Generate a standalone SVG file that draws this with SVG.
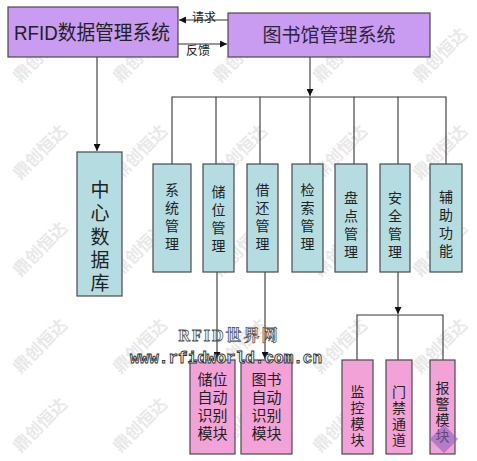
<svg xmlns="http://www.w3.org/2000/svg" width="477" height="461" viewBox="0 0 477 461">
<style>
text{font-family:"Liberation Sans","Noto Sans CJK SC",sans-serif;fill:#222}
.purple{fill:#c99cf2;stroke:#4a4a4a;stroke-width:1.2}
.teal{fill:#b5dde1;stroke:#4a4a4a;stroke-width:1.2}
.pink{fill:#f3a2d8;stroke:#4a4a4a;stroke-width:1.2}
.ln{stroke:#333;stroke-width:1.1;fill:none}
.v{font-size:14px;text-anchor:middle}
.p{font-size:15px;text-anchor:middle}
.t2{fill:#2e2440}
.wm{font-family:"Noto Sans CJK SC",sans-serif;font-size:17px;font-weight:bold;fill:#e8e8e8;text-anchor:middle}
.rw{font-family:"Liberation Serif","Noto Serif CJK SC","Noto Sans CJK SC",serif;font-size:16px;font-weight:bold;fill:#fff;stroke:#555;stroke-width:0.8px;text-anchor:middle;letter-spacing:2px}
.url{font-family:"Liberation Mono",monospace;font-size:16px;font-weight:bold;fill:#fff;stroke:#333;stroke-width:0.9px}
</style>
<defs>
<marker id="ah" viewBox="0 0 10 10" refX="10" refY="5" markerWidth="7" markerHeight="7" orient="auto" markerUnits="userSpaceOnUse">
<path d="M0,0 L10,5 L0,10 Z" fill="#111"/>
</marker>
</defs>
<rect width="477" height="461" fill="#fff"/>
<g id="watermarks">
<text class="wm" x="40" y="61" transform="rotate(-45 40 55)">鼎创恒达</text>
<text class="wm" x="140" y="61" transform="rotate(-45 140 55)">鼎创恒达</text>
<text class="wm" x="240" y="61" transform="rotate(-45 240 55)">鼎创恒达</text>
<text class="wm" x="340" y="61" transform="rotate(-45 340 55)">鼎创恒达</text>
<text class="wm" x="440" y="61" transform="rotate(-45 440 55)">鼎创恒达</text>
<text class="wm" x="40" y="158" transform="rotate(-45 40 152)">鼎创恒达</text>
<text class="wm" x="140" y="158" transform="rotate(-45 140 152)">鼎创恒达</text>
<text class="wm" x="240" y="158" transform="rotate(-45 240 152)">鼎创恒达</text>
<text class="wm" x="340" y="158" transform="rotate(-45 340 152)">鼎创恒达</text>
<text class="wm" x="440" y="158" transform="rotate(-45 440 152)">鼎创恒达</text>
<text class="wm" x="40" y="255" transform="rotate(-45 40 249)">鼎创恒达</text>
<text class="wm" x="140" y="255" transform="rotate(-45 140 249)">鼎创恒达</text>
<text class="wm" x="240" y="255" transform="rotate(-45 240 249)">鼎创恒达</text>
<text class="wm" x="340" y="255" transform="rotate(-45 340 249)">鼎创恒达</text>
<text class="wm" x="440" y="255" transform="rotate(-45 440 249)">鼎创恒达</text>
<text class="wm" x="40" y="352" transform="rotate(-45 40 346)">鼎创恒达</text>
<text class="wm" x="140" y="352" transform="rotate(-45 140 346)">鼎创恒达</text>
<text class="wm" x="240" y="352" transform="rotate(-45 240 346)">鼎创恒达</text>
<text class="wm" x="340" y="352" transform="rotate(-45 340 346)">鼎创恒达</text>
<text class="wm" x="440" y="352" transform="rotate(-45 440 346)">鼎创恒达</text>
<text class="wm" x="40" y="431" transform="rotate(-45 40 425)">鼎创恒达</text>
<text class="wm" x="140" y="431" transform="rotate(-45 140 425)">鼎创恒达</text>
<text class="wm" x="240" y="431" transform="rotate(-45 240 425)">鼎创恒达</text>
<text class="wm" x="340" y="431" transform="rotate(-45 340 425)">鼎创恒达</text>
</g>

<g id="connectors">
<line class="ln" x1="228" y1="20" x2="179" y2="20" marker-end="url(#ah)"/>
<line class="ln" x1="178" y1="44" x2="227" y2="44" marker-end="url(#ah)"/>
<line class="ln" x1="97" y1="57" x2="97" y2="151" marker-end="url(#ah)"/>
<line class="ln" x1="310" y1="57" x2="310" y2="96" marker-end="url(#ah)"/>
<polyline class="ln" points="172,164 172,97 446,97 446,164"/>
<line class="ln" x1="216" y1="97" x2="216" y2="164"/>
<line class="ln" x1="260" y1="97" x2="260" y2="164"/>
<line class="ln" x1="310" y1="97" x2="310" y2="164"/>
<line class="ln" x1="354" y1="97" x2="354" y2="164"/>
<line class="ln" x1="398" y1="97" x2="398" y2="164"/>
<line class="ln" x1="217" y1="272" x2="217" y2="359" marker-end="url(#ah)"/>
<line class="ln" x1="265" y1="272" x2="265" y2="359" marker-end="url(#ah)"/>
<line class="ln" x1="398" y1="272" x2="398" y2="314" marker-end="url(#ah)"/>
<polyline class="ln" points="357,360 357,315 443,315 443,360"/>
<line class="ln" x1="398" y1="315" x2="398" y2="360"/>
<text x="204" y="22" font-size="12" text-anchor="middle">请求</text>
<text x="198" y="55" font-size="12" text-anchor="middle">反馈</text>
</g>

<g id="rfid">
<rect class="purple" x="8" y="7" width="170" height="50"/>
<text x="14" y="40" font-size="20" textLength="156" lengthAdjust="spacingAndGlyphs">RFID数据管理系统</text>
</g>
<g id="library">
<rect class="purple" x="228" y="13" width="202" height="44"/>
<text class="t2" x="329" y="42" font-size="19" text-anchor="middle">图书馆管理系统</text>
</g>
<g id="db">
<rect class="teal" x="77" y="152" width="45" height="144"/>
<g font-size="19" text-anchor="middle">
<text x="100" y="197">中</text><text x="100" y="220">心</text><text x="100" y="244">数</text><text x="100" y="267">据</text><text x="100" y="290">库</text>
</g>
</g>
<g id="sys">
<rect class="teal" x="153" y="164" width="38" height="108"/>
<text class="v" x="172" y="195">系</text><text class="v" x="172" y="213">统</text><text class="v" x="172" y="231">管</text><text class="v" x="172" y="249">理</text>
</g>
<g id="storage">
<rect class="teal" x="203" y="164" width="31" height="108"/>
<text class="v" x="218.5" y="197">储</text><text class="v" x="218.5" y="215">位</text><text class="v" x="218.5" y="233">管</text><text class="v" x="218.5" y="251">理</text>
</g>
<g id="borrow">
<rect class="teal" x="247" y="164" width="31" height="108"/>
<text class="v" x="262.5" y="195">借</text><text class="v" x="262.5" y="213">还</text><text class="v" x="262.5" y="231">管</text><text class="v" x="262.5" y="249">理</text>
</g>
<g id="search">
<rect class="teal" x="292" y="164" width="31" height="108"/>
<text class="v" x="307.5" y="195">检</text><text class="v" x="307.5" y="213">索</text><text class="v" x="307.5" y="231">管</text><text class="v" x="307.5" y="249">理</text>
</g>
<g id="inventory">
<rect class="teal" x="335" y="164" width="32" height="108"/>
<text class="v" x="351" y="203">盘</text><text class="v" x="351" y="221">点</text><text class="v" x="351" y="239">管</text><text class="v" x="351" y="257">理</text>
</g>
<g id="security">
<rect class="teal" x="380" y="164" width="30" height="108"/>
<text class="v" x="395" y="203">安</text><text class="v" x="395" y="221">全</text><text class="v" x="395" y="239">管</text><text class="v" x="395" y="257">理</text>
</g>
<g id="aux">
<rect class="teal" x="430" y="164" width="32" height="108"/>
<text class="v" x="446" y="202">辅</text><text class="v" x="446" y="220">助</text><text class="v" x="446" y="238">功</text><text class="v" x="446" y="256">能</text>
</g>
<g id="storage-auto">
<rect class="pink" x="190" y="360" width="45" height="94"/>
<text class="p" x="212.5" y="385">储位</text><text class="p" x="212.5" y="403">自动</text><text class="p" x="212.5" y="421">识别</text><text class="p" x="212.5" y="439">模块</text>
</g>
<g id="book-auto">
<rect class="pink" x="241" y="360" width="51" height="94"/>
<text class="p" x="266.5" y="385">图书</text><text class="p" x="266.5" y="403">自动</text><text class="p" x="266.5" y="421">识别</text><text class="p" x="266.5" y="439">模块</text>
</g>
<g id="monitor">
<rect class="pink" x="342" y="360" width="31" height="94"/>
<text class="v" x="357.5" y="397">监</text><text class="v" x="357.5" y="413">控</text><text class="v" x="357.5" y="429">模</text><text class="v" x="357.5" y="445">块</text>
</g>
<g id="gate">
<rect class="pink" x="386" y="360" width="26" height="94"/>
<text class="v" x="399" y="397">门</text><text class="v" x="399" y="413">禁</text><text class="v" x="399" y="429">通</text><text class="v" x="399" y="445">道</text>
</g>
<g id="alarm">
<rect class="pink" x="430" y="360" width="25" height="94"/>
<text class="v" x="442.5" y="393">报</text><text class="v" x="442.5" y="409">警</text><text class="v" x="442.5" y="425">模</text><text class="v" x="442.5" y="441">块</text>
</g>
<rect x="434" y="429" width="20" height="20" fill="#8a62b8" opacity="0.6" transform="rotate(45 444 439)"/>
<text class="rw" x="229" y="341">RFID世界网</text>
<text class="url" x="130" y="363">www.rfidworld.com.cn</text>
</svg>
